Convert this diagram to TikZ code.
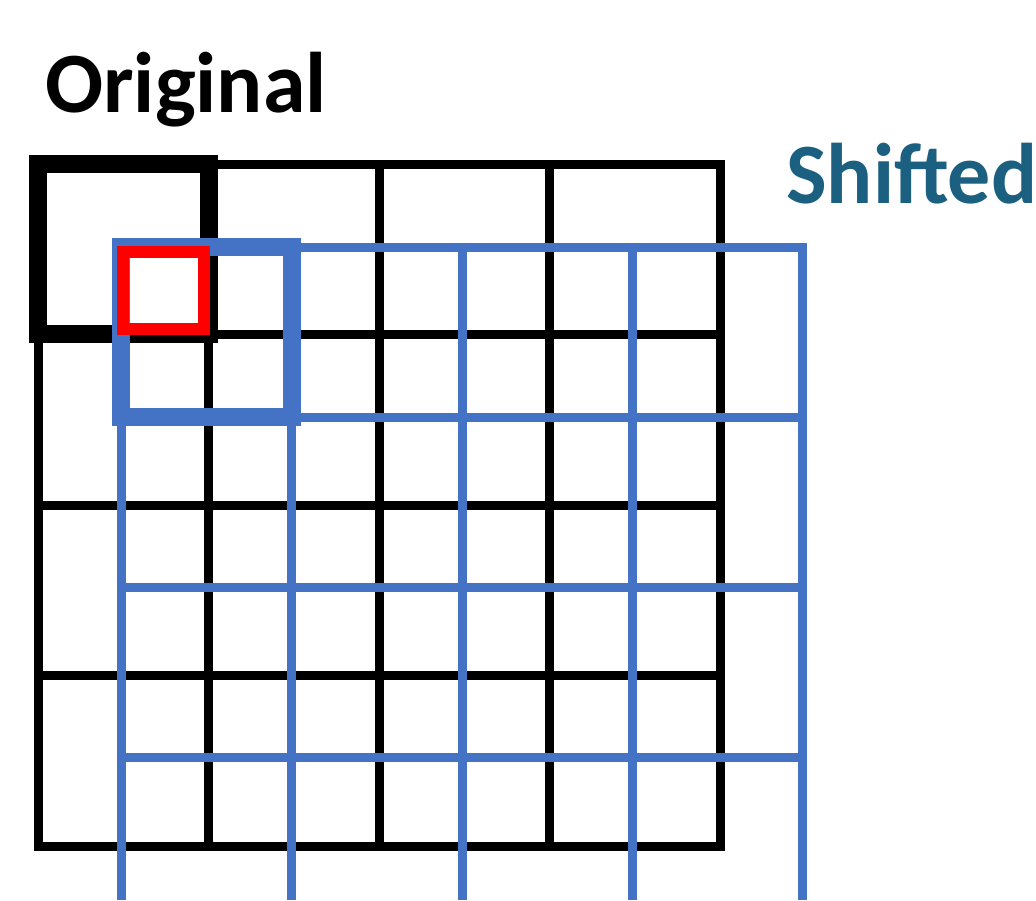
\documentclass[tikz,border=0pt]{standalone}
\usepackage{fontspec}
\setmainfont{Carlito}
\usepackage{tikz}
\definecolor{gridblue}{HTML}{4472C4}
\definecolor{gridred}{HTML}{FF0000}
\definecolor{titleteal}{HTML}{1B6080}
\tikzset{
  thinline/.style={line width=9pt, line cap=rect},
  thickline/.style={line width=18pt},
  title/.style={font=\bfseries\fontsize{86}{90}\selectfont, anchor=base west, inner sep=0pt}
}

\begin{document}
\begin{tikzpicture}[x=1pt, y=-1pt]
        \useasboundingbox (0,0) rectangle (1036,900);
        \node[title] (orig) at (45,112) {Original};
        \node[title, text=titleteal] (shift) at (786,203) {Shifted};
        % original grid, 4 x 4 cells
        \foreach \p in {38,208.5,379,549.5,720} {
          \draw[thinline] (\p,164) -- (\p,845);
          \draw[thinline] (38,\p+126) -- (720,\p+126);
        }
        \draw[thickline] (38,164) rectangle (208.5,334);
        % shifted grid, half a cell down and right
        \foreach \p in {121,291.5,462,632,802.5}
          \draw[thinline, gridblue, line cap=butt] (\p,242.5) -- (\p,900);
        \foreach \q in {247,417,587,757.5}
          \draw[thinline, gridblue] (121,\q) -- (802.5,\q);
        \draw[thickline, gridblue] (121,247) rectangle (291.5,417);
        \draw[line width=12.5pt, gridred] (123,252) rectangle (204,329);
      \end{tikzpicture}
\end{document}
